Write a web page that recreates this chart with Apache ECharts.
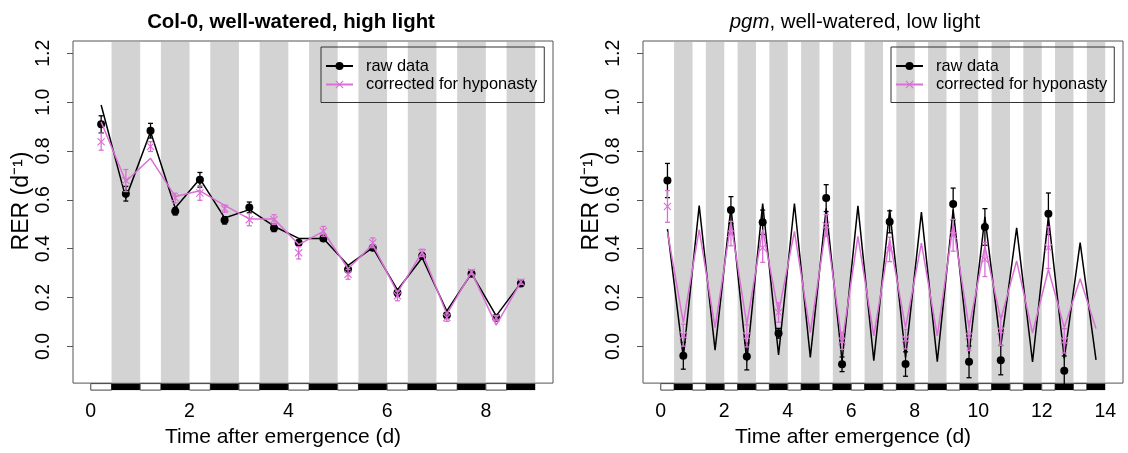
<!DOCTYPE html>
<html>
<head>
<meta charset="utf-8">
<title>RER</title>
<script src="https://cdn.jsdelivr.net/npm/echarts@6/dist/echarts.min.js"></script>
<style>
    html, body { margin: 0; padding: 0; background: #fff; }
    #main { width: 1128px; height: 453px; }
</style>
</head>
<body>
<div id="main"></div>
<script>
// ---- Col-0, well-watered, high light (9 days) ----
var colTime = [0.21, 0.71, 1.21, 1.71, 2.21, 2.71, 3.21, 3.71, 4.21, 4.71, 5.21, 5.71, 6.21, 6.71, 7.21, 7.71, 8.21, 8.71];
var colRaw = [0.909, 0.625, 0.883, 0.553, 0.682, 0.516, 0.569, 0.485, 0.424, 0.442, 0.315, 0.404, 0.220, 0.370, 0.128, 0.298, 0.117, 0.258];
var colRawErr = [0.035, 0.03, 0.03, 0.015, 0.03, 0.015, 0.022, 0.015, 0.01, 0.012, 0.012, 0.01, 0.015, 0.012, 0.01, 0.01, 0.01, 0.01];
var colCor = [0.838, 0.679, 0.818, 0.607, 0.628, 0.564, 0.519, 0.519, 0.383, 0.471, 0.295, 0.424, 0.207, 0.383, 0.118, 0.304, 0.117, 0.264];
var colCorErr = [0.035, 0.045, 0.02, 0.02, 0.03, 0.015, 0.025, 0.02, 0.025, 0.02, 0.02, 0.02, 0.02, 0.015, 0.015, 0.01, 0.01, 0.01];
var colRawLine = [0.988, 0.607, 0.879, 0.567, 0.686, 0.526, 0.56, 0.492, 0.442, 0.442, 0.332, 0.404, 0.231, 0.363, 0.145, 0.299, 0.125, 0.26];
var colCorLine = [0.919, 0.675, 0.770, 0.614, 0.637, 0.577, 0.522, 0.522, 0.417, 0.471, 0.318, 0.417, 0.220, 0.386, 0.132, 0.304, 0.087, 0.264];
var colDays = [0, 1, 2, 3, 4, 5, 6, 7, 8];
var colXTicks = [0, 2, 4, 6, 8];

// ---- pgm, well-watered, low light (14 days) ----
var pgmLineTime = [0.21, 0.71, 1.21, 1.71, 2.21, 2.71, 3.21, 3.71, 4.21, 4.71, 5.21, 5.71, 6.21, 6.71,
                   7.21, 7.71, 8.21, 8.71, 9.21, 9.71, 10.21, 10.71, 11.21, 11.71, 12.21, 12.71, 13.21, 13.71];
var pgmRawLine = [0.48, -0.045, 0.576, -0.015, 0.57, -0.06, 0.585, -0.035, 0.585, -0.045, 0.565, -0.06, 0.575, -0.058,
                  0.56, -0.045, 0.55, -0.062, 0.56, -0.03, 0.53, 0.0, 0.485, -0.063, 0.53, -0.05, 0.425, -0.055];
var pgmCorLine = [0.47, 0.098, 0.478, 0.077, 0.505, 0.09, 0.478, 0.138, 0.471, 0.057, 0.491, 0.016, 0.45, 0.043,
                  0.437, 0.077, 0.423, 0.043, 0.5, 0.077, 0.41, 0.111, 0.35, 0.055, 0.315, 0.077, 0.277, 0.073];
var pgmTime = [0.21, 0.71, 2.21, 2.71, 3.21, 3.71, 5.21, 5.71, 7.21, 7.71, 9.21, 9.71, 10.21, 10.71, 12.21, 12.71];
var pgmRaw = [0.679, -0.038, 0.558, -0.041, 0.508, 0.054, 0.607, -0.073, 0.51, -0.072, 0.583, -0.063, 0.489, -0.056, 0.543, -0.099];
var pgmRawErr = [0.07, 0.055, 0.055, 0.055, 0.05, 0.02, 0.055, 0.03, 0.045, 0.05, 0.065, 0.065, 0.075, 0.06, 0.085, 0.06];
var pgmCor = [0.573, 0.046, 0.462, 0.043, 0.404, 0.139, 0.495, 0.023, 0.397, 0.03, 0.455, 0.043, 0.356, 0.064, 0.404, 0.023];
var pgmCorErr = [0.065, 0.045, 0.05, 0.045, 0.06, 0.04, 0.045, 0.035, 0.05, 0.04, 0.065, 0.06, 0.07, 0.06, 0.085, 0.05];
var pgmDays = [0, 1, 2, 3, 4, 5, 6, 7, 8, 9, 10, 11, 12, 13];
var pgmXTicks = [0, 2, 4, 6, 8, 10, 12, 14];

var yTicks = [0, 0.2, 0.4, 0.6, 0.8, 1.0, 1.2];
var lightLength = 0.42;   // light part of each day

var FONT = 'Liberation Sans, Arial, sans-serif';
var PINK = '#da70d6';
var CROSS = 'path://M1,0L5,4L9,0L10,1L6,5L10,9L9,10L5,6L1,10L0,9L4,5L0,1Z';

function pairs(xs, ys) {
    return xs.map(function (x, i) { return [x, ys[i]]; });
}
function triples(xs, ys, es) {
    return xs.map(function (x, i) { return [x, ys[i], es[i]]; });
}

// grey night bands inside the plot
function renderNight(params, api) {
    var d = api.value(0);
    var cs = params.coordSys;
    var a = api.coord([d + lightLength, 0])[0];
    var b = api.coord([d + 1, 0])[0];
    return {
        type: 'rect',
        shape: {x: a, y: cs.y + 1, width: b - a, height: cs.height - 2},
        style: {fill: '#d3d3d3'}
    };
}

// light/dark bar under the plot
function renderStrip(params, api) {
    var d = api.value(0);
    var cs = params.coordSys;
    var a = api.coord([d, 0])[0];
    var b = api.coord([d + lightLength, 0])[0];
    var c = api.coord([d + 1, 0])[0];
    var y = cs.y + cs.height + 0.5;
    return {
        type: 'group',
        children: [
            {type: 'rect', shape: {x: a, y: y, width: b - a, height: 6.5}, style: {fill: '#fff', stroke: '#444', lineWidth: 1}},
            {type: 'rect', shape: {x: b, y: y, width: c - b, height: 6.5}, style: {fill: '#000'}}
        ]
    };
}

function errBars(color) {
    return function (params, api) {
        var x = api.value(0), y = api.value(1), e = api.value(2);
        var t = api.coord([x, y + e]);
        var b = api.coord([x, y - e]);
        var w = 2.5;
        var st = {stroke: color, lineWidth: 1.3};
        return {
            type: 'group',
            children: [
                {type: 'line', shape: {x1: t[0], y1: t[1], x2: b[0], y2: b[1]}, style: st},
                {type: 'line', shape: {x1: t[0] - w, y1: t[1], x2: t[0] + w, y2: t[1]}, style: st},
                {type: 'line', shape: {x1: b[0] - w, y1: b[1], x2: b[0] + w, y2: b[1]}, style: st}
            ]
        };
    };
}

function panelSeries(idx, days, lineTime, rawLine, corLine, ptTime, raw, rawErr, cor, corErr) {
    return [
        {type: 'custom', xAxisIndex: idx, yAxisIndex: idx, silent: true, z: 1,
         renderItem: renderNight, data: days.map(function (d) { return [d]; })},
        {type: 'custom', xAxisIndex: idx, yAxisIndex: idx, silent: true, z: 1, clip: false,
         renderItem: renderStrip, data: days.map(function (d) { return [d]; })},
        {name: 'raw data', type: 'line', xAxisIndex: idx, yAxisIndex: idx, z: 3,
         data: pairs(lineTime, rawLine), symbol: 'circle', showSymbol: false,
         lineStyle: {color: '#000', width: 1.5}, itemStyle: {color: '#000'}},
        {type: 'custom', xAxisIndex: idx, yAxisIndex: idx, z: 4, silent: true,
         renderItem: errBars('#000'), data: triples(ptTime, raw, rawErr)},
        {type: 'scatter', xAxisIndex: idx, yAxisIndex: idx, z: 4, silent: true,
         data: pairs(ptTime, raw), symbol: 'circle', symbolSize: 8, itemStyle: {color: '#000', opacity: 1}},
        {name: 'corrected for hyponasty', type: 'line', xAxisIndex: idx, yAxisIndex: idx, z: 5,
         data: pairs(lineTime, corLine), symbol: CROSS, showSymbol: false,
         lineStyle: {color: PINK, width: 1.5}, itemStyle: {color: PINK}},
        {type: 'custom', xAxisIndex: idx, yAxisIndex: idx, z: 6, silent: true,
         renderItem: errBars(PINK), data: triples(ptTime, cor, corErr)},
        {type: 'scatter', xAxisIndex: idx, yAxisIndex: idx, z: 6, silent: true,
         data: pairs(ptTime, cor), symbol: CROSS, symbolSize: 8, itemStyle: {color: PINK, opacity: 1}}
    ];
}

function xAxisFor(idx, min, max, ticks) {
    return {
        type: 'value', gridIndex: idx, min: min, max: max,
        splitLine: {show: false}, axisLine: {show: false, onZero: false}, axisTick: {show: false},
        axisLabel: {customValues: ticks, margin: 19, fontSize: 19.5, color: '#000', fontFamily: FONT},
        name: 'Time after emergence (d)', nameLocation: 'middle', nameGap: 40,
        nameTextStyle: {fontSize: 21, color: '#000', fontFamily: FONT, padding: [0, 60, 0, 0]}
    };
}

function yAxisFor(idx) {
    return {
        type: 'value', gridIndex: idx, min: -0.15, max: 1.25,
        splitLine: {show: false}, axisLine: {show: false, onZero: false},
        axisTick: {customValues: yTicks, length: 6, lineStyle: {color: '#555'}},
        axisLabel: {customValues: yTicks, rotate: 90, margin: 19, fontSize: 19.5, color: '#000', fontFamily: FONT,
                    formatter: function (v) { return v.toFixed(1); }},
        name: 'RER (d\u207B\u00B9)', nameLocation: 'middle', nameRotate: 90, nameGap: 38,
        nameTextStyle: {fontSize: 23, color: '#000', fontFamily: FONT, padding: [0, 0, 0, 22]}
    };
}

function legendAt(left) {
    return {
        left: left, top: 47, orient: 'vertical', selectedMode: false,
        data: ['raw data', 'corrected for hyponasty'],
        itemWidth: 27, itemHeight: 10, itemGap: 0.5,
        borderColor: '#333', borderWidth: 1, padding: [10, 7, 9, 4],
        textStyle: {fontSize: 16.4, lineHeight: 18, color: '#000', fontFamily: FONT, padding: [0, 0, 0, 8]}
    };
}

var chart = echarts.init(document.getElementById('main'));
chart.setOption({
    animation: false,
    backgroundColor: '#fff',
    title: [
        {text: 'Col-0, well-watered, high light', left: 291, top: 12, textAlign: 'center', textVerticalAlign: 'top', padding: 0,
         textStyle: {fontSize: 20.4, fontWeight: 'bold', color: '#000', fontFamily: FONT}},
        {text: '{i|pgm}, well-watered, low light', left: 855, top: 12, textAlign: 'center', textVerticalAlign: 'top', padding: 0,
         textStyle: {fontSize: 20.4, fontWeight: 'normal', color: '#000', fontFamily: FONT,
                     rich: {i: {fontStyle: 'italic', fontSize: 20.4, color: '#000', fontFamily: FONT}}}}
    ],
    legend: [legendAt(321), legendAt(891)],
    grid: [
        {left: 73, top: 41, width: 480, height: 343, show: true, borderColor: '#555', borderWidth: 1, backgroundColor: '#fff'},
        {left: 643, top: 41, width: 480, height: 343, show: true, borderColor: '#555', borderWidth: 1, backgroundColor: '#fff'}
    ],
    xAxis: [xAxisFor(0, -0.36, 9.36, colXTicks), xAxisFor(1, -0.56, 14.56, pgmXTicks)],
    yAxis: [yAxisFor(0), yAxisFor(1)],
    series: panelSeries(0, colDays, colTime, colRawLine, colCorLine, colTime, colRaw, colRawErr, colCor, colCorErr)
        .concat(panelSeries(1, pgmDays, pgmLineTime, pgmRawLine, pgmCorLine, pgmTime, pgmRaw, pgmRawErr, pgmCor, pgmCorErr))
});
</script>
</body>
</html>
